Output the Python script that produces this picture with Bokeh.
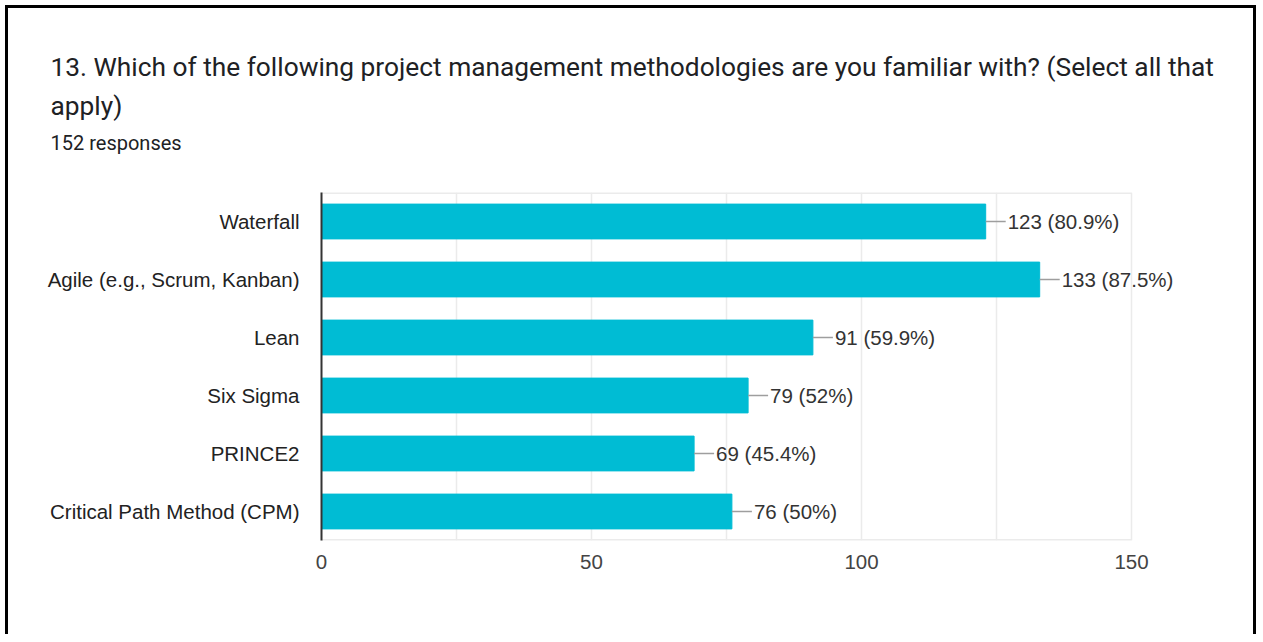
from bokeh.plotting import figure
from bokeh.layouts import column
from bokeh.models import Range1d, FactorRange, FixedTicker, ColumnDataSource
from bokeh.core.properties import value
from bokeh.embed import file_html
from bokeh.resources import INLINE

categories = ["Waterfall", "Agile (e.g., Scrum, Kanban)", "Lean", "Six Sigma",
              "PRINCE2", "Critical Path Method (CPM)"]
counts = [123, 133, 91, 79, 69, 76]
percents = ["80.9", "87.5", "59.9", "52", "45.4", "50"]
x_ticks = [0, 50, 100, 150]
grid_ticks = [0, 25, 50, 75, 100, 125, 150]
title_lines = ["13. Which of the following project management methodologies are you familiar with? (Select all that",
               "apply)"]
subtitle = "152 responses"

W = 1245
TOP_H = 176
MAIN_H = 450
FRAME_L, FRAME_R = 313, 25
frame_w = W - FRAME_L - FRAME_R
px_per_unit = 810 / 150.0
x_end = frame_w / px_per_unit
leader_units = 20 / px_per_unit

labels = [f"{c} ({p}%)" for c, p in zip(counts, percents)]
src = ColumnDataSource(dict(
    cat=categories, count=counts, label=labels,
    lead_end=[c + leader_units for c in counts],
))

# ---- header (question text) ----
top = figure(width=W, height=TOP_H, x_range=Range1d(0, W), y_range=Range1d(TOP_H, 0),
             x_axis_type=None, y_axis_type=None, output_backend="svg",
             toolbar_location=None, min_border=0)
top.frame_align = False
top.outline_line_color = None
top.grid.visible = False
top.text(x=[42, 42], y=[58, 97], text=title_lines,
         text_font=value("Roboto"), text_font_size="26.3px", text_color="#202124",
         text_baseline="alphabetic", text_align="left")
top.text(x=[42], y=[134], text=[subtitle],
         text_font=value("Roboto"), text_font_size="20px", text_color="#202124",
         text_baseline="alphabetic", text_align="left")

# ---- bar chart ----
p = figure(
    width=W, height=MAIN_H,
    y_range=FactorRange(factors=list(reversed(categories))),
    x_range=Range1d(0, x_end),
    output_backend="svg", toolbar_location=None,
    min_border_left=FRAME_L, min_border_right=FRAME_R,
    min_border_top=8, min_border_bottom=94,
)
p.outline_line_color = None

p.hbar(y="cat", right="count", left=0, height=0.6, source=src,
       fill_color="#00BCD4", line_color="#00BCD4")
# chart-area box top and bottom edges (0..150)
p.segment(x0=[0, 0], x1=[x_ticks[-1]] * 2, y0=[0, len(categories)],
          y1=[0, len(categories)], line_color="#ebebeb", line_width=3)
p.segment(x0="count", y0="cat", x1="lead_end", y1="cat", source=src,
          line_color="#9e9e9e", line_width=1.5)
p.text(x="lead_end", y="cat", text="label", source=src, x_offset=2,
       text_baseline="middle", text_align="left",
       text_font=value("Liberation Sans"), text_font_size="20.5px",
       text_color="#333333")

p.ygrid.grid_line_color = None
p.xgrid.ticker = FixedTicker(ticks=grid_ticks)
p.xgrid.grid_line_color = "#ebebeb"
p.xgrid.grid_line_width = 1.5

xa = p.xaxis[0]
xa.ticker = FixedTicker(ticks=x_ticks)
xa.axis_line_color = None
xa.major_tick_line_color = None
xa.minor_tick_line_color = None
xa.major_tick_out = 0
xa.major_label_standoff = 14
xa.major_label_text_font = "Liberation Sans"
xa.major_label_text_font_size = "20.5px"
xa.major_label_text_color = "#444444"

ya = p.yaxis[0]
ya.axis_line_color = "#333333"
ya.axis_line_width = 2
ya.major_tick_line_color = None
ya.minor_tick_line_color = None
ya.major_tick_out = 0
ya.major_label_standoff = 22
ya.major_label_text_font = "Liberation Sans"
ya.major_label_text_font_size = "20.5px"
ya.major_label_text_color = "#222222"

layout = column(top, p, spacing=0)
layout.styles = {"margin-left": "5px", "margin-top": "5px",
                 "border-left": "3px solid black", "border-top": "3px solid black",
                 "border-right": "3px solid black"}

open("out.html", "w").write(file_html(layout, INLINE))
